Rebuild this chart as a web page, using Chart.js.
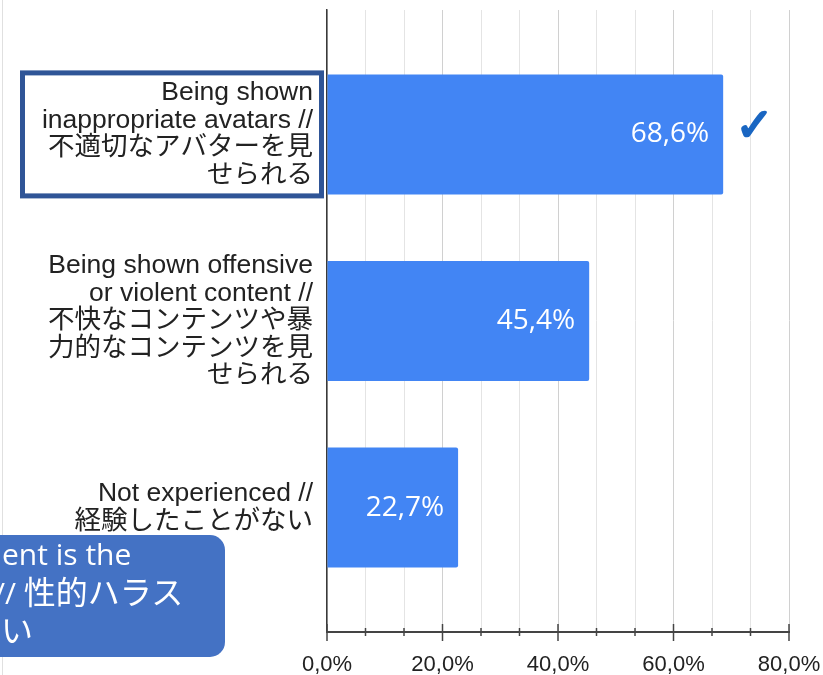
<!DOCTYPE html>
<html>
<head>
<meta charset="utf-8">
<script src="https://cdn.jsdelivr.net/npm/chart.js@4"></script>
<style>
  html, body { margin: 0; padding: 0; background: #fff; }
  #wrap { position: relative; width: 823px; height: 675px; overflow: hidden; }
  #c { position: absolute; left: 0; top: 0; }
  .edge { position: absolute; left: 2px; top: 0; width: 1px; height: 675px; background: #e0e0e0; }
  .note {
    position: absolute; left: -60px; top: 535px; width: 285px; height: 122px;
    background: #4472C4; border-radius: 15px; overflow: hidden; color: #fff;
    font: 30px "Open Sans", "Noto Sans CJK JP", sans-serif;
  }
  .note span { position: absolute; white-space: nowrap; line-height: 1; }
  .note .cjk { font-size: 32px; }
</style>
</head>
<body>
<div id="wrap">
  <div class="edge"></div>
  <canvas id="c" width="823" height="675"></canvas>
  <div class="note">
    <span style="left:62px; top:4px;">ent is the</span>
    <span style="left:54px; top:41px;">// <span class="cjk" style="position:static">性的ハラス</span></span>
    <span class="cjk" style="left:61px; top:79px;">い</span>
  </div>
</div>
<script>
// Response categories (multi-line labels) and their shares in percent
const categories = [
  ["Being shown", "inappropriate avatars //", "不適切なアバターを見", "せられる"],
  ["Being shown offensive", "or violent content //", "不快なコンテンツや暴", "力的なコンテンツを見", "せられる"],
  ["Not experienced //", "経験したことがない"]
];
const shares = [68.6, 45.4, 22.7];

// Value axis: labelled ticks and the number of grid steps between them
const majorTicks = [0, 20, 40, 60, 80];
const minorSteps = 3;

// Categories marked with a check
const checkedIndex = [0];
// Category whose label is framed
const framedIndex = 0;

const fmt = v => v.toFixed(1).replace('.', ',') + '%';

const gridValues = [];
for (let i = 0; i < majorTicks.length - 1; i++) {
  const a = majorTicks[i], b = majorTicks[i + 1];
  for (let k = 0; k < minorSteps; k++) gridValues.push(a + (b - a) * k / minorSteps);
}
gridValues.push(majorTicks[majorTicks.length - 1]);
const isMajor = v => majorTicks.some(m => Math.abs(m - v) < 1e-6);

const labelFont = { family: '"Liberation Sans", Arial, "Noto Sans CJK JP", sans-serif', size: 26.5, lineHeight: 1.04 };

const valueLabels = {
  id: 'valueLabels',
  afterDatasetsDraw(chart) {
    const ctx = chart.ctx;
    const meta = chart.getDatasetMeta(0);
    ctx.save();
    ctx.font = '28px "Open Sans", sans-serif';
    ctx.fillStyle = '#ffffff';
    ctx.textAlign = 'right';
    ctx.textBaseline = 'middle';
    meta.data.forEach((bar, i) => ctx.fillText(fmt(shares[i]), bar.x - 14, bar.y));
    ctx.font = '46px "DejaVu Sans", sans-serif';
    ctx.fillStyle = '#1a66c2';
    ctx.strokeStyle = '#1a66c2';
    ctx.lineWidth = 2;
    ctx.lineJoin = 'round';
    ctx.textAlign = 'left';
    checkedIndex.forEach(i => {
      const bar = meta.data[i];
      ctx.fillText('\u2713', bar.x + 12, bar.y - 5);
      ctx.strokeText('\u2713', bar.x + 12, bar.y - 5);
    });
    ctx.restore();
  }
};

const axisDecor = {
  id: 'axisDecor',
  afterDraw(chart) {
    const ctx = chart.ctx;
    const xs = chart.scales.x, ys = chart.scales.y;
    ctx.save();
    // tick marks crossing the value axis
    ctx.strokeStyle = '#444';
    ctx.lineWidth = 1.5;
    const base = xs.top;
    xs.ticks.forEach(t => {
      const px = xs.getPixelForValue(t.value);
      const major = isMajor(t.value);
      ctx.beginPath();
      ctx.moveTo(px, base - (major ? 8 : 4));
      ctx.lineTo(px, base + (major ? 9 : 4));
      ctx.stroke();
    });
    // frame around the highlighted category label
    const cy = ys.getPixelForValue(framedIndex);
    ctx.strokeStyle = '#2f5597';
    ctx.lineWidth = 5;
    ctx.strokeRect(ys.right - 304.5, cy - 61.5, 299, 123);
    ctx.restore();
  }
};

new Chart(document.getElementById('c'), {
  type: 'bar',
  data: {
    datasets: [{
      data: shares.map((v, i) => ({ x: v, y: i })),
      backgroundColor: '#4285F4',
      borderRadius: 2,
      barPercentage: 0.643,
      categoryPercentage: 1
    }]
  },
  options: {
    indexAxis: 'y',
    responsive: false,
    animation: false,
    layout: { padding: { top: 10, right: 34, left: 0, bottom: 0 } },
    plugins: { legend: { display: false }, tooltip: { enabled: false } },
    scales: {
      y: {
        type: 'linear',
        reverse: true,
        min: -2 / 3,
        max: 8 / 3,
        offset: false,
        afterBuildTicks: s => { s.ticks = categories.map((_, i) => ({ value: i })); },
        afterFit: s => { s.width = 327; s.paddingTop = 0; s.paddingBottom = 0; },
        grid: { display: false, drawTicks: false, offset: false },
        border: { display: true, color: '#3a3a3a', width: 1.5 },
        ticks: {
          callback: v => categories[v],
          padding: 14,
          autoSkip: false,
          color: '#222',
          font: labelFont
        }
      },
      x: {
        type: 'linear',
        min: 0,
        max: 80,
        afterBuildTicks: s => { s.ticks = gridValues.map(v => ({ value: v })); },
        afterFit: s => { s.height = 43; s.paddingLeft = 0; s.paddingRight = 0; },
        grid: {
          color: c => (c.tick && isMajor(c.tick.value)) ? '#d0d0d0' : '#e4e4e4',
          lineWidth: 1,
          drawTicks: false
        },
        border: { display: true, color: '#444', width: 2 },
        ticks: {
          callback: v => isMajor(v) ? fmt(v) : '',
          padding: 20,
          autoSkip: false,
          maxRotation: 0,
          color: '#222',
          font: { family: '"Liberation Sans", Arial, sans-serif', size: 22 }
        }
      }
    }
  },
  plugins: [valueLabels, axisDecor]
});
</script>
</body>
</html>
